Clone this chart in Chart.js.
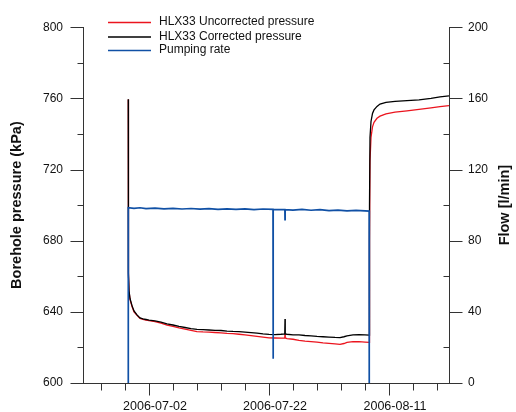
<!DOCTYPE html>
<html>
<head>
<meta charset="utf-8">
<script src="https://cdn.jsdelivr.net/npm/chart.js@4.4.1/dist/chart.umd.min.js"></script>
<style>
  body { margin: 0; background: #fff; }
</style>
</head>
<body>
<canvas id="chart" width="516" height="412"></canvas>
<script>
// Pressure readings (kPa), shared time stamps for both pressure series
const pressureTimes = [
  '2006-06-28T13:00', '2006-06-28T13:30', '2006-06-28T14:00', '2006-06-28T16:00', '2006-06-28T20:00',
  '2006-06-29T04:00', '2006-06-29T12:00', '2006-06-30T00:00', '2006-06-30T12:00', '2006-07-01T00:00',
  '2006-07-01T12:00', '2006-07-02T00:00', '2006-07-03T00:00', '2006-07-04T00:00', '2006-07-05T00:00',
  '2006-07-06T00:00', '2006-07-07T00:00', '2006-07-08T00:00', '2006-07-09T00:00', '2006-07-10T00:00',
  '2006-07-11T00:00', '2006-07-12T00:00', '2006-07-13T00:00', '2006-07-14T00:00', '2006-07-15T00:00',
  '2006-07-16T00:00', '2006-07-17T00:00', '2006-07-18T00:00', '2006-07-19T00:00', '2006-07-20T00:00',
  '2006-07-21T00:00', '2006-07-22T00:00', '2006-07-23T00:00', '2006-07-24T00:00', '2006-07-24T15:00',
  '2006-07-24T16:00', '2006-07-24T17:00', '2006-07-25T00:00', '2006-07-26T00:00', '2006-07-27T00:00',
  '2006-07-28T00:00', '2006-07-29T00:00', '2006-07-30T00:00', '2006-07-31T00:00', '2006-08-01T00:00',
  '2006-08-02T00:00', '2006-08-02T20:00', '2006-08-03T12:00', '2006-08-04T00:00', '2006-08-05T00:00',
  '2006-08-06T00:00', '2006-08-07T00:00', '2006-08-07T17:00', '2006-08-07T18:00', '2006-08-07T20:00',
  '2006-08-08T00:00', '2006-08-08T06:00', '2006-08-08T12:00', '2006-08-09T00:00', '2006-08-09T12:00',
  '2006-08-10T12:00', '2006-08-12T00:00', '2006-08-14T00:00', '2006-08-16T00:00', '2006-08-18T00:00',
  '2006-08-19T12:00', '2006-08-21T00:00'
];
const correctedPressure = [
  759.5, 700, 662, 652, 647.5,
  643.5, 640.5, 638.3, 636.6, 636,
  635.7, 635.3, 634.9, 634.2, 633.2,
  632.6, 631.8, 631.2, 630.6, 630.2,
  630, 629.8, 629.6, 629.5, 629.2,
  629, 628.9, 628.6, 628.3, 628,
  627.6, 627.3, 627.2, 627.4, 627.6,
  636, 627.6, 627.4, 627.1, 627,
  626.7, 626.5, 626.2, 626, 625.8,
  625.6, 625.5, 626, 626.5, 627,
  627.2, 627, 626.9, 700, 738,
  747, 751.5, 753.5, 755.5, 756.8,
  757.8, 758.3, 758.7, 759.2, 760,
  760.8, 761.4
];
const uncorrectedPressure = [
  759.3, 699, 661, 651.5, 647,
  643, 640, 638, 636.3, 635.7,
  635.4, 635, 634.5, 633.6, 632.5,
  631.8, 631, 630.3, 629.6, 628.9,
  628.7, 628.6, 628.4, 628.2, 627.9,
  627.7, 627.4, 627, 626.6, 626.2,
  625.8, 625.4, 625.3, 625.2, 625.3,
  627.5, 625.3, 625, 624.6, 624,
  623.5, 623.3, 623, 622.6, 622.3,
  622, 621.7, 622.2, 622.8, 623.2,
  623.3, 623, 622.8, 680, 725,
  738, 744, 746.5, 748.8, 750,
  751.3, 752.3, 753, 753.8, 754.6,
  755.3, 755.9
];

// Pumping rate (l/min)
const flowTimes = [
  '2006-06-28T13:00', '2006-06-28T13:10', '2006-06-29T12:00', '2006-06-30T12:00', '2006-07-01T12:00',
  '2006-07-03T00:00', '2006-07-04T12:00', '2006-07-06T00:00', '2006-07-07T12:00', '2006-07-09T00:00',
  '2006-07-10T12:00', '2006-07-12T00:00', '2006-07-13T12:00', '2006-07-15T00:00', '2006-07-16T12:00',
  '2006-07-18T00:00', '2006-07-19T12:00', '2006-07-21T00:00', '2006-07-22T16:00', '2006-07-22T16:30',
  '2006-07-22T17:00', '2006-07-24T15:30', '2006-07-24T16:00', '2006-07-24T16:30', '2006-07-26T00:00',
  '2006-07-27T12:00', '2006-07-29T00:00', '2006-07-30T12:00', '2006-08-01T00:00', '2006-08-02T12:00',
  '2006-08-04T00:00', '2006-08-05T12:00', '2006-08-07T16:50', '2006-08-07T17:00'
];
const flowRate = [
  0, 98.6, 98.2, 98.5, 98.0,
  98.3, 97.9, 98.2, 97.8, 98.1,
  97.7, 98.0, 97.6, 97.9, 97.6,
  97.9, 97.5, 97.8, 97.6, 13.7,
  97.6, 97.5, 91.8, 97.5, 97.2,
  97.6, 97.1, 97.4, 96.9, 97.2,
  96.7, 97.0, 96.6, 0
];

// x axis: tick labels every 20 days, small ticks every 4 days
const xStart = '2006-06-21';
const xEnd = '2006-08-21';
const tickLabels = ['2006-07-02', '2006-07-22', '2006-08-11'];
const minorDays = 4;

const DAY = 86400000;
const toMs = s => Date.parse(s.length > 10 ? s + 'Z' : s + 'T00:00Z');
const pairs = (times, vals) => times.map((t, i) => ({ x: toMs(t), y: vals[i] }));

const majorMs = tickLabels.map(toMs);
const isMajorX = v => majorMs.some(m => Math.abs(m - v) < DAY / 2);

const axisColor = '#333';
const font = 'Liberation Sans, Arial, sans-serif';

const decor = {
  id: 'decor',
  afterDraw(chart) {
    const { ctx, scales } = chart;
    const x = scales.x, yP = scales.yP, yF = scales.yF;
    ctx.save();
    ctx.strokeStyle = axisColor;
    ctx.lineWidth = 1;
    ctx.beginPath();
    // bottom ticks
    const xb = Math.round(x.top) + 0.5;
    x.ticks.forEach(t => {
      const px = Math.round(x.getPixelForValue(t.value)) + 0.5;
      ctx.moveTo(px, xb);
      ctx.lineTo(px, xb + (isMajorX(t.value) ? 12 : 7));
    });
    // left ticks (outside)
    const lx = Math.round(yP.right) + 0.5;
    yP.ticks.forEach(t => {
      const py = Math.round(yP.getPixelForValue(t.value)) + 0.5;
      ctx.moveTo(lx, py);
      ctx.lineTo(lx - (t.value % 40 === 0 ? 13 : 6), py);
    });
    // right ticks: major outside, minor inside
    const rx = Math.round(yF.left) + 0.5;
    yF.ticks.forEach(t => {
      const py = Math.round(yF.getPixelForValue(t.value)) + 0.5;
      ctx.moveTo(rx, py);
      ctx.lineTo(t.value % 40 === 0 ? rx + 13 : rx - 6, py);
    });
    ctx.stroke();

    // axis titles
    ctx.fillStyle = '#111';
    ctx.font = 'bold 14.5px ' + font;
    ctx.textAlign = 'center';
    ctx.textBaseline = 'middle';
    const midY = (chart.chartArea.top + chart.chartArea.bottom) / 2;
    [[17, 'Borehole pressure (kPa)'], [505, 'Flow [l/min]']].forEach(([tx, txt]) => {
      ctx.save();
      ctx.translate(tx, midY);
      ctx.rotate(-Math.PI / 2);
      ctx.fillText(txt, 0, 0);
      ctx.restore();
    });

    // legend
    ctx.font = '12px ' + font;
    ctx.textAlign = 'left';
    const rows = [22.5, 37, 50.5];
    chart.data.datasets.forEach((ds, i) => {
      ctx.strokeStyle = ds.borderColor;
      ctx.lineWidth = 1.3;
      ctx.beginPath();
      ctx.moveTo(108, rows[i]);
      ctx.lineTo(151, rows[i]);
      ctx.stroke();
      ctx.fillStyle = '#111';
      ctx.fillText(ds.label, 159, rows[i] - 0.5);
    });
    ctx.restore();
  }
};

new Chart(document.getElementById('chart'), {
  type: 'line',
  data: {
    datasets: [
      {
        label: 'HLX33 Uncorrected pressure',
        data: pairs(pressureTimes, uncorrectedPressure),
        borderColor: 'rgb(235, 20, 30)',
        borderWidth: 1.3,
        yAxisID: 'yP',
        order: 2
      },
      {
        label: 'HLX33 Corrected pressure',
        data: pairs(pressureTimes, correctedPressure),
        borderColor: '#000',
        borderWidth: 1.3,
        yAxisID: 'yP',
        order: 1
      },
      {
        label: 'Pumping rate',
        data: pairs(flowTimes, flowRate),
        borderColor: 'rgb(16, 80, 165)',
        borderWidth: 1.7,
        yAxisID: 'yF',
        order: 0
      }
    ]
  },
  options: {
    responsive: false,
    animation: false,
    events: [],
    layout: { padding: { top: 17, left: 0, right: 0, bottom: 0 } },
    elements: { point: { radius: 0 }, line: { tension: 0 } },
    plugins: { legend: { display: false }, tooltip: { enabled: false } },
    scales: {
      x: {
        type: 'linear',
        min: toMs(xStart),
        max: toMs(xEnd),
        grid: { display: false, drawTicks: false },
        border: { color: axisColor },
        afterBuildTicks: scale => {
          const ticks = [];
          for (let v = majorMs[0]; v >= scale.min; v -= minorDays * DAY) ticks.unshift({ value: v });
          for (let v = majorMs[0] + minorDays * DAY; v <= scale.max; v += minorDays * DAY) ticks.push({ value: v });
          scale.ticks = ticks;
        },
        afterFit: scale => { scale.height = 29; },
        ticks: {
          autoSkip: false,
          maxRotation: 0,
          padding: 16,
          labelOffset: 6,
          color: '#111',
          font: { family: font, size: 12.5 },
          callback: v => isMajorX(v) ? new Date(v).toISOString().slice(0, 10) : ''
        }
      },
      yP: {
        position: 'left',
        min: 600,
        max: 800,
        grid: { display: false, drawTicks: false },
        border: { color: axisColor },
        afterFit: scale => { scale.width = 83; },
        ticks: {
          stepSize: 20,
          padding: 20,
          color: '#111',
          font: { family: font, size: 12 },
          callback: v => v % 40 === 0 ? v : ''
        }
      },
      yF: {
        position: 'right',
        min: 0,
        max: 200,
        grid: { display: false, drawTicks: false },
        border: { color: axisColor },
        afterFit: scale => { scale.width = 67; },
        ticks: {
          stepSize: 20,
          padding: 19,
          color: '#111',
          font: { family: font, size: 12 },
          callback: v => v % 40 === 0 ? v : ''
        }
      }
    }
  },
  plugins: [decor]
});
</script>
</body>
</html>
